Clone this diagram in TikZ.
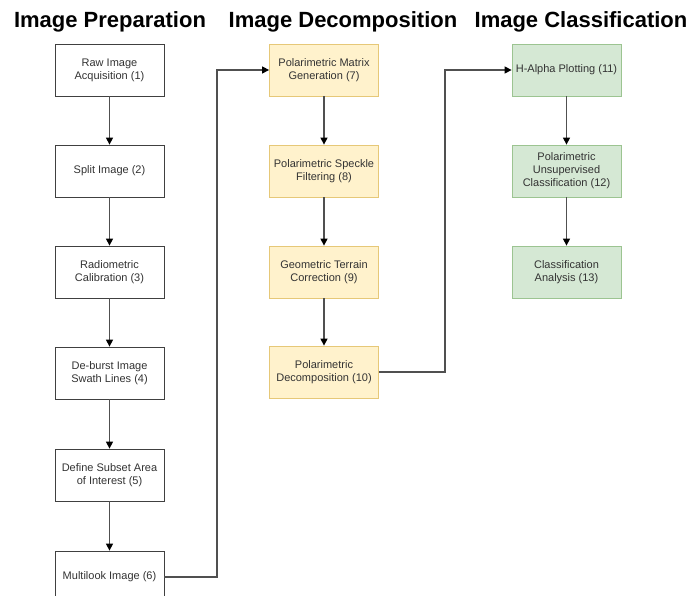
\documentclass[tikz,border=0pt]{standalone}
\usepackage{fontspec}
\setmainfont{Liberation Sans}
\usetikzlibrary{arrows.meta}
\definecolor{txt}{HTML}{333333}
\definecolor{plainedge}{HTML}{404040}
\definecolor{yfill}{HTML}{FFF2CC}
\definecolor{yedge}{HTML}{E6C878}
\definecolor{gfill}{HTML}{D5E8D4}
\definecolor{gedge}{HTML}{9CC491}
\definecolor{linec}{HTML}{505050}
\tikzset{
  x=1pt,y=1pt,
  box/.style={draw, line width=0.8pt, minimum width=109pt, minimum height=52pt,
    inner sep=1pt, align=center, text=txt, font=\fontsize{11}{13}\selectfont},
  plainbox/.style={box, draw=plainedge, fill=white},
  ybox/.style={box, draw=yedge, fill=yfill},
  gbox/.style={box, draw=gedge, fill=gfill},
  conn/.style={draw=linec, line width=1.4pt,
    -{Triangle[length=7pt,width=7pt,color=black]}},
  title/.style={font=\bfseries\fontsize{22}{24}\selectfont, text=black, inner sep=0pt}
}
\begin{document}
\begin{tikzpicture}
\useasboundingbox (0,0) rectangle (699,-596);
\fill[white] (0,0) rectangle (699,-596);
\begin{scope}
\clip (0,0) rectangle (699,-596);
% titles
\node[title] (t1) at (110,-22) {Image Preparation};
\node[title] (t2) at (343,-22) {Image Decomposition};
\node[title] (t3) at (581,-22) {Image Classification};
% column 1
\node[plainbox] (b1) at (109.5,-70) {Raw Image\\Acquisition (1)};
\node[plainbox] (b2) at (109.5,-171) {Split Image (2)};
\node[plainbox] (b3) at (109.5,-272) {Radiometric\\Calibration (3)};
\node[plainbox] (b4) at (109.5,-373) {De-burst Image\\Swath Lines (4)};
\node[plainbox] (b5) at (109.5,-475) {Define Subset Area\\of Interest (5)};
\node[plainbox] (b6) at (109.5,-577) {Multilook Image (6)};
% column 2
\node[ybox] (b7) at (324,-70) {Polarimetric Matrix\\Generation (7)};
\node[ybox] (b8) at (324,-171) {Polarimetric Speckle\\Filtering (8)};
\node[ybox] (b9) at (324,-272) {Geometric Terrain\\Correction (9)};
\node[ybox] (b10) at (324,-372) {Polarimetric\\Decomposition (10)};
% column 3
\node[gbox] (b11) at (566.5,-70) {H-Alpha Plotting (11)};
\node[gbox] (b12) at (566.5,-171) {Polarimetric\\Unsupervised\\Classification (12)};
\node[gbox] (b13) at (566.5,-272) {Classification\\Analysis (13)};
% connectors
\draw[conn] (b1) -- (b2);
\draw[conn] (b2) -- (b3);
\draw[conn] (b3) -- (b4);
\draw[conn] (b4) -- (b5);
\draw[conn] (b5) -- (b6);
\draw[conn] (b7) -- (b8);
\draw[conn] (b8) -- (b9);
\draw[conn] (b9) -- (b10);
\draw[conn] (b11) -- (b12);
\draw[conn] (b12) -- (b13);
\coordinate (c1) at (217,-577);
\coordinate (c2) at (217,-70);
\draw[conn] (b6.east) -- (c1) -- (c2) -- (b7.west);
\coordinate (c3) at (445,-372);
\coordinate (c4) at (445,-70);
\draw[conn] (b10.east) -- (c3) -- (c4) -- (b11.west);
\end{scope}
\end{tikzpicture}
\end{document}
